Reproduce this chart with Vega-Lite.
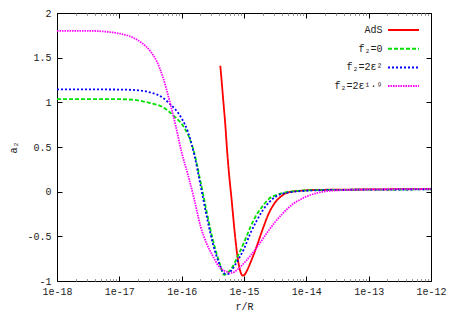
{
  "$schema": "https://vega.github.io/schema/vega-lite/v6.json",
  "width": 374,
  "height": 268,
  "autosize": "none",
  "padding": {"left": 57, "top": 13, "right": 19, "bottom": 34},
  "background": "white",
  "config": {
    "view": {"stroke": "black", "strokeWidth": 1},
    "font": "Liberation Mono",
    "axis": {
      "labelFont": "Liberation Mono",
      "labelFontSize": 10,
      "labelColor": "#222222",
      "titleFont": "Liberation Mono",
      "titleFontSize": 10,
      "titleFontWeight": "normal",
      "titleColor": "#222222",
      "tickColor": "black",
      "domain": false,
      "grid": false,
      "labelOverlap": false,
      "labelFlush": false,
      "labelBound": false
    },
    "legend": {
      "labelFont": "Liberation Mono",
      "labelFontSize": 10,
      "labelColor": "#222222"
    }
  },
  "data": {
    "values": [
      {"s": "AdS", "x": 4.169e-16, "y": 1.41},
      {"s": "AdS", "x": 4.365e-16, "y": 1.25},
      {"s": "AdS", "x": 4.677e-16, "y": 1.0},
      {"s": "AdS", "x": 5.012e-16, "y": 0.75},
      {"s": "AdS", "x": 5.370e-16, "y": 0.45},
      {"s": "AdS", "x": 5.754e-16, "y": 0.2},
      {"s": "AdS", "x": 6.310e-16, "y": -0.08},
      {"s": "AdS", "x": 7.079e-16, "y": -0.45},
      {"s": "AdS", "x": 7.943e-16, "y": -0.75},
      {"s": "AdS", "x": 8.913e-16, "y": -0.91},
      {"s": "AdS", "x": 9.550e-16, "y": -0.94},
      {"s": "AdS", "x": 1.047e-15, "y": -0.92},
      {"s": "AdS", "x": 1.122e-15, "y": -0.88},
      {"s": "AdS", "x": 1.259e-15, "y": -0.80},
      {"s": "AdS", "x": 1.585e-15, "y": -0.62},
      {"s": "AdS", "x": 1.995e-15, "y": -0.42},
      {"s": "AdS", "x": 2.512e-15, "y": -0.24},
      {"s": "AdS", "x": 3.162e-15, "y": -0.12},
      {"s": "AdS", "x": 3.981e-15, "y": -0.05},
      {"s": "AdS", "x": 5.012e-15, "y": -0.01},
      {"s": "AdS", "x": 7.943e-15, "y": 0.01},
      {"s": "AdS", "x": 1.585e-14, "y": 0.02},
      {"s": "AdS", "x": 1e-13, "y": 0.025},
      {"s": "AdS", "x": 1e-12, "y": 0.03},

      {"s": "f₂=0", "x": 1e-18, "y": 1.037},
      {"s": "f₂=0", "x": 1e-17, "y": 1.035},
      {"s": "f₂=0", "x": 1.585e-17, "y": 1.03},
      {"s": "f₂=0", "x": 3.162e-17, "y": 0.99},
      {"s": "f₂=0", "x": 5.012e-17, "y": 0.945},
      {"s": "f₂=0", "x": 6.310e-17, "y": 0.895},
      {"s": "f₂=0", "x": 7.943e-17, "y": 0.83},
      {"s": "f₂=0", "x": 1e-16, "y": 0.76},
      {"s": "f₂=0", "x": 1.259e-16, "y": 0.64},
      {"s": "f₂=0", "x": 1.585e-16, "y": 0.44},
      {"s": "f₂=0", "x": 1.995e-16, "y": 0.12},
      {"s": "f₂=0", "x": 2.512e-16, "y": -0.22},
      {"s": "f₂=0", "x": 3.162e-16, "y": -0.54},
      {"s": "f₂=0", "x": 3.981e-16, "y": -0.78},
      {"s": "f₂=0", "x": 4.786e-16, "y": -0.93},
      {"s": "f₂=0", "x": 5.623e-16, "y": -0.90},
      {"s": "f₂=0", "x": 6.310e-16, "y": -0.86},
      {"s": "f₂=0", "x": 7.943e-16, "y": -0.72},
      {"s": "f₂=0", "x": 1e-15, "y": -0.57},
      {"s": "f₂=0", "x": 1.259e-15, "y": -0.40},
      {"s": "f₂=0", "x": 1.585e-15, "y": -0.26},
      {"s": "f₂=0", "x": 1.995e-15, "y": -0.16},
      {"s": "f₂=0", "x": 2.512e-15, "y": -0.08},
      {"s": "f₂=0", "x": 3.981e-15, "y": -0.02},
      {"s": "f₂=0", "x": 6.310e-15, "y": 0.005},
      {"s": "f₂=0", "x": 1e-14, "y": 0.015},
      {"s": "f₂=0", "x": 3.162e-14, "y": 0.02},
      {"s": "f₂=0", "x": 1e-12, "y": 0.025},

      {"s": "f₂=2ε²", "x": 1e-18, "y": 1.146},
      {"s": "f₂=2ε²", "x": 1e-17, "y": 1.143},
      {"s": "f₂=2ε²", "x": 1.995e-17, "y": 1.135},
      {"s": "f₂=2ε²", "x": 3.162e-17, "y": 1.11},
      {"s": "f₂=2ε²", "x": 5.012e-17, "y": 1.05},
      {"s": "f₂=2ε²", "x": 6.310e-17, "y": 0.99},
      {"s": "f₂=2ε²", "x": 7.943e-17, "y": 0.92},
      {"s": "f₂=2ε²", "x": 1e-16, "y": 0.82},
      {"s": "f₂=2ε²", "x": 1.259e-16, "y": 0.67},
      {"s": "f₂=2ε²", "x": 1.585e-16, "y": 0.42},
      {"s": "f₂=2ε²", "x": 1.995e-16, "y": 0.08},
      {"s": "f₂=2ε²", "x": 2.512e-16, "y": -0.27},
      {"s": "f₂=2ε²", "x": 3.162e-16, "y": -0.58},
      {"s": "f₂=2ε²", "x": 3.981e-16, "y": -0.80},
      {"s": "f₂=2ε²", "x": 5.012e-16, "y": -0.92},
      {"s": "f₂=2ε²", "x": 5.623e-16, "y": -0.92},
      {"s": "f₂=2ε²", "x": 6.310e-16, "y": -0.88},
      {"s": "f₂=2ε²", "x": 7.943e-16, "y": -0.77},
      {"s": "f₂=2ε²", "x": 1e-15, "y": -0.64},
      {"s": "f₂=2ε²", "x": 1.259e-15, "y": -0.47},
      {"s": "f₂=2ε²", "x": 1.585e-15, "y": -0.33},
      {"s": "f₂=2ε²", "x": 1.995e-15, "y": -0.21},
      {"s": "f₂=2ε²", "x": 2.512e-15, "y": -0.12},
      {"s": "f₂=2ε²", "x": 3.162e-15, "y": -0.06},
      {"s": "f₂=2ε²", "x": 5.012e-15, "y": -0.01},
      {"s": "f₂=2ε²", "x": 1e-14, "y": 0.01},
      {"s": "f₂=2ε²", "x": 3.162e-14, "y": 0.02},
      {"s": "f₂=2ε²", "x": 1e-12, "y": 0.025},

      {"s": "f₂=2ε¹·⁹", "x": 1e-18, "y": 1.80},
      {"s": "f₂=2ε¹·⁹", "x": 3.162e-18, "y": 1.80},
      {"s": "f₂=2ε¹·⁹", "x": 6.310e-18, "y": 1.79},
      {"s": "f₂=2ε¹·⁹", "x": 1e-17, "y": 1.77},
      {"s": "f₂=2ε¹·⁹", "x": 1.585e-17, "y": 1.73},
      {"s": "f₂=2ε¹·⁹", "x": 2.239e-17, "y": 1.67},
      {"s": "f₂=2ε¹·⁹", "x": 3.162e-17, "y": 1.57},
      {"s": "f₂=2ε¹·⁹", "x": 3.981e-17, "y": 1.46},
      {"s": "f₂=2ε¹·⁹", "x": 5.012e-17, "y": 1.28},
      {"s": "f₂=2ε¹·⁹", "x": 6.310e-17, "y": 1.03},
      {"s": "f₂=2ε¹·⁹", "x": 7.943e-17, "y": 0.75},
      {"s": "f₂=2ε¹·⁹", "x": 1e-16, "y": 0.44},
      {"s": "f₂=2ε¹·⁹", "x": 1.259e-16, "y": 0.19},
      {"s": "f₂=2ε¹·⁹", "x": 1.585e-16, "y": -0.08},
      {"s": "f₂=2ε¹·⁹", "x": 1.995e-16, "y": -0.38},
      {"s": "f₂=2ε¹·⁹", "x": 2.512e-16, "y": -0.58},
      {"s": "f₂=2ε¹·⁹", "x": 3.162e-16, "y": -0.72},
      {"s": "f₂=2ε¹·⁹", "x": 3.981e-16, "y": -0.84},
      {"s": "f₂=2ε¹·⁹", "x": 5.012e-16, "y": -0.89},
      {"s": "f₂=2ε¹·⁹", "x": 6.310e-16, "y": -0.91},
      {"s": "f₂=2ε¹·⁹", "x": 7.943e-16, "y": -0.87},
      {"s": "f₂=2ε¹·⁹", "x": 1e-15, "y": -0.80},
      {"s": "f₂=2ε¹·⁹", "x": 1.259e-15, "y": -0.72},
      {"s": "f₂=2ε¹·⁹", "x": 1.585e-15, "y": -0.63},
      {"s": "f₂=2ε¹·⁹", "x": 1.995e-15, "y": -0.53},
      {"s": "f₂=2ε¹·⁹", "x": 2.512e-15, "y": -0.43},
      {"s": "f₂=2ε¹·⁹", "x": 3.162e-15, "y": -0.34},
      {"s": "f₂=2ε¹·⁹", "x": 3.981e-15, "y": -0.26},
      {"s": "f₂=2ε¹·⁹", "x": 5.012e-15, "y": -0.19},
      {"s": "f₂=2ε¹·⁹", "x": 6.310e-15, "y": -0.13},
      {"s": "f₂=2ε¹·⁹", "x": 7.943e-15, "y": -0.09},
      {"s": "f₂=2ε¹·⁹", "x": 1e-14, "y": -0.055},
      {"s": "f₂=2ε¹·⁹", "x": 1.585e-14, "y": -0.01},
      {"s": "f₂=2ε¹·⁹", "x": 3.162e-14, "y": 0.015},
      {"s": "f₂=2ε¹·⁹", "x": 1e-13, "y": 0.025},
      {"s": "f₂=2ε¹·⁹", "x": 1e-12, "y": 0.03}
    ]
  },
  "layer": [
    {
      "mark": {"type": "line", "interpolate": "monotone", "strokeWidth": 1.8, "clip": true},
      "encoding": {
        "x": {
          "field": "x", "type": "quantitative",
          "scale": {"type": "log", "domain": [1e-18, 1e-12]},
          "axis": {
            "orient": "bottom",
            "title": "r/R",
            "titlePadding": 3,
            "values": [1e-18,2e-18,3e-18,4e-18,5e-18,6e-18,7e-18,8e-18,9e-18,
                       1e-17,2e-17,3e-17,4e-17,5e-17,6e-17,7e-17,8e-17,9e-17,
                       1e-16,2e-16,3e-16,4e-16,5e-16,6e-16,7e-16,8e-16,9e-16,
                       1e-15,2e-15,3e-15,4e-15,5e-15,6e-15,7e-15,8e-15,9e-15,
                       1e-14,2e-14,3e-14,4e-14,5e-14,6e-14,7e-14,8e-14,9e-14,
                       1e-13,2e-13,3e-13,4e-13,5e-13,6e-13,7e-13,8e-13,9e-13,1e-12],
            "labelExpr": "abs(log(datum.value)/LN10 - round(log(datum.value)/LN10)) < 0.01 ? '1e' + round(log(datum.value)/LN10) : ''",
            "tickSize": {"condition": {"test": "abs(log(datum.value)/LN10 - round(log(datum.value)/LN10)) < 0.01", "value": -5}, "value": -2.5},
            "tickColor": {"condition": {"test": "abs(log(datum.value)/LN10 - round(log(datum.value)/LN10)) < 0.01", "value": "black"}, "value": "#999999"},
            "labelPadding": 10
          }
        },
        "y": {
          "field": "y", "type": "quantitative",
          "scale": {"domain": [-1, 2], "nice": false, "zero": false},
          "axis": {
            "orient": "left",
            "title": "a₂",
            "titlePadding": 8,
            "values": [-1, -0.5, 0, 0.5, 1, 1.5, 2],
            "labelExpr": "'' + datum.value",
            "tickSize": -5,
            "labelPadding": 11
          }
        },
        "color": {
          "field": "s", "type": "nominal",
          "scale": {
            "domain": ["AdS", "f₂=0", "f₂=2ε²", "f₂=2ε¹·⁹"],
            "range": ["#ff0000", "#00e000", "#0000ff", "#ff00ff"]
          },
          "legend": {
            "orient": "none",
            "legendX": 340.5,
            "legendY": 11,
            "title": null,
            "padding": 0,
            "symbolType": "M-3.1,0H3.1",
            "symbolSize": 100,
            "symbolStrokeWidth": 2,
            "symbolFillColor": "transparent",
            "labelAlign": "right",
            "labelOffset": -27,
            "rowPadding": 7.7
          }
        },
        "strokeDash": {
          "field": "s", "type": "nominal",
          "scale": {
            "domain": ["AdS", "f₂=0", "f₂=2ε²", "f₂=2ε¹·⁹"],
            "range": [[1, 0], [4, 2], [2, 2], [1.5, 1]]
          },
          "legend": null
        }
      }
    },
    {
      "mark": {"type": "line", "opacity": 0},
      "encoding": {
        "x": {
          "field": "x", "type": "quantitative",
          "scale": {"type": "log", "domain": [1e-18, 1e-12]},
          "axis": {
            "orient": "top",
            "title": null,
            "labels": false,
            "values": [1e-18,2e-18,3e-18,4e-18,5e-18,6e-18,7e-18,8e-18,9e-18,
                       1e-17,2e-17,3e-17,4e-17,5e-17,6e-17,7e-17,8e-17,9e-17,
                       1e-16,2e-16,3e-16,4e-16,5e-16,6e-16,7e-16,8e-16,9e-16,
                       1e-15,2e-15,3e-15,4e-15,5e-15,6e-15,7e-15,8e-15,9e-15,
                       1e-14,2e-14,3e-14,4e-14,5e-14,6e-14,7e-14,8e-14,9e-14,
                       1e-13,2e-13,3e-13,4e-13,5e-13,6e-13,7e-13,8e-13,9e-13,1e-12],
            "tickSize": {"condition": {"test": "abs(log(datum.value)/LN10 - round(log(datum.value)/LN10)) < 0.01", "value": -5}, "value": -2.5},
            "tickColor": {"condition": {"test": "abs(log(datum.value)/LN10 - round(log(datum.value)/LN10)) < 0.01", "value": "black"}, "value": "#999999"}
          }
        },
        "y": {
          "field": "y", "type": "quantitative",
          "scale": {"domain": [-1, 2], "nice": false, "zero": false},
          "axis": {
            "orient": "right",
            "title": null,
            "labels": false,
            "values": [-1, -0.5, 0, 0.5, 1, 1.5, 2],
            "tickSize": -5
          }
        }
      }
    }
  ],
  "resolve": {"axis": {"x": "independent", "y": "independent"}}
}
